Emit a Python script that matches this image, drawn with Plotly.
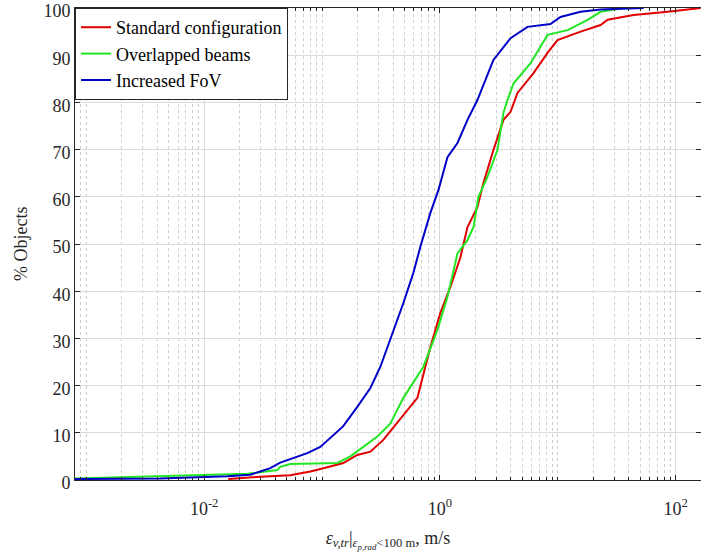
import plotly.graph_objects as go

# ---- data (x in m/s, y in % objects) ----
std_x = [0.0160, 0.0299, 0.0537, 0.0794, 0.1026, 0.1514, 0.1991, 0.2570, 0.3311, 0.4624,
         0.6442, 0.8299, 1.009, 1.227, 1.493, 1.714, 2.080, 2.339, 2.844, 3.459,
         3.972, 4.550, 6.223, 8.185, 9.954, 15.60, 23.07, 26.49, 43.95, 85.51, 162.9]
std_y = [0.2, 0.7, 1.0, 1.8, 2.5, 3.6, 5.3, 6.0, 8.5, 13.0,
         17.4, 28.2, 35.4, 40.9, 47.2, 53.6, 57.8, 62.9, 69.9, 76.3,
         78.0, 82.0, 86.2, 90.5, 93.2, 95.0, 96.4, 97.5, 98.5, 99.2, 100.0]

ovl_x = [0.000802, 0.00222, 0.00982, 0.0232, 0.0417, 0.0442, 0.0537, 0.1349, 0.1738, 0.2239,
         0.2944, 0.3802, 0.4898, 0.7244, 0.9528, 1.159, 1.409, 1.714, 1.928, 2.123,
         2.529, 3.076, 3.459, 3.741, 4.207, 5.875, 8.185, 12.11, 17.91, 23.07, 36.22]
ovl_y = [0.3, 0.6, 1.0, 1.3, 2.1, 2.8, 3.4, 3.6, 5.0, 7.0,
         9.2, 12.0, 17.4, 24.0, 31.8, 38.8, 48.0, 50.8, 53.6, 60.0,
         64.2, 69.9, 77.8, 80.5, 84.0, 88.3, 94.3, 95.3, 97.5, 99.2, 100.0]

fov_x = [0.000802, 0.00423, 0.0157, 0.0246, 0.0299, 0.0364, 0.0442, 0.0570, 0.0750, 0.0966,
         0.1222, 0.1514, 0.1991, 0.2570, 0.3126, 0.3802, 0.4898, 0.5957, 0.6823, 0.8299,
         0.9705, 1.159, 1.409, 1.714, 2.080, 2.844, 3.972, 5.534, 8.670, 10.54,
         15.60, 23.07, 53.46]
fov_y = [0.2, 0.3, 0.8, 1.1, 1.8, 2.5, 3.7, 4.6, 5.7, 7.0,
         9.2, 11.4, 15.5, 19.5, 24.0, 29.7, 37.5, 43.9, 49.4, 56.6,
         61.4, 68.4, 71.4, 76.3, 80.5, 89.0, 93.6, 96.0, 96.6, 98.1,
         99.2, 99.7, 100.0]

series_names = ["Standard configuration", "Overlapped beams", "Increased FoV"]
series_colors = ["#e00000", "#22e622", "#0000c8"]

major_x_ticks = [1e-2, 1e0, 1e2]
major_x_labels = ["10<sup>-2</sup>", "10<sup>0</sup>", "10<sup>2</sup>"]
y_ticks = list(range(0, 101, 10))

decades = [-4, -3, -2, -1, 0, 1, 2]
minor_vals = [k * 10.0 ** d for d in decades for k in range(1, 10)
              if not (k == 1 and d in (-2, 0, 2))]

FONT = "Liberation Serif"
TXT = "#262626"
tickfont = dict(family=FONT, size=18, color=TXT)

fig = go.Figure()
for xs, ys, name, col in zip([std_x, ovl_x, fov_x], [std_y, ovl_y, fov_y],
                              series_names, series_colors):
    fig.add_trace(go.Scatter(x=xs, y=ys, mode="lines", name=name,
                             line=dict(color=col, width=2)))

fig.update_layout(
    width=701, height=552,
    margin=dict(l=75, r=0, t=8, b=72),
    paper_bgcolor="white", plot_bgcolor="white",
    font=dict(family=FONT, size=18, color=TXT),
    showlegend=True,
    legend=dict(x=0, y=1, xanchor="left", yanchor="top",
                bgcolor="white", bordercolor="#262626", borderwidth=1,
                font=dict(family=FONT, size=18, color="black"),
                tracegroupgap=0),
    annotations=[dict(text="% Objects", textangle=-90, showarrow=False,
                      xref="paper", yref="paper", x=0, y=0.5,
                      xanchor="center", yanchor="middle", xshift=-54,
                      font=dict(family=FONT, size=18, color=TXT))],
)

fig.update_xaxes(
    type="log", range=[-3.096, 2.215], automargin=False,
    tickvals=major_x_ticks, ticktext=major_x_labels, tickfont=tickfont,
    ticklabeloverflow="allow", ticklabelstandoff=12,
    ticks="inside", ticklen=5, tickcolor=TXT,
    showline=True, linecolor=TXT, linewidth=1, mirror="ticks",
    showgrid=True, gridcolor="#dadada", gridwidth=1,
    zeroline=False,
    minor=dict(tickvals=minor_vals, ticks="inside", ticklen=3, tickcolor=TXT,
               showgrid=True, gridcolor="#cfcfcf", griddash="dot", gridwidth=1),
    title=dict(text="<i>ε</i><sub><i>v,tr</i></sub>|<sub><i>ε</i><sub><i>p,rad</i></sub>&lt;100 m</sub>, m/s",
               font=dict(family=FONT, size=18, color=TXT), standoff=14),
)
fig.update_yaxes(
    range=[0, 100.0001], tickvals=y_ticks, automargin=False, tickfont=tickfont,
    ticklabeloverflow="allow", ticklabelshift=3,
    ticks="inside", ticklen=5, tickcolor=TXT,
    showline=True, linecolor=TXT, linewidth=1, mirror="ticks",
    showgrid=True, gridcolor="#dadada", gridwidth=1,
    zeroline=False,
)

fig.write_html("out.html", post_script="document.body.style.margin='0';",
               config={"displayModeBar": False})
